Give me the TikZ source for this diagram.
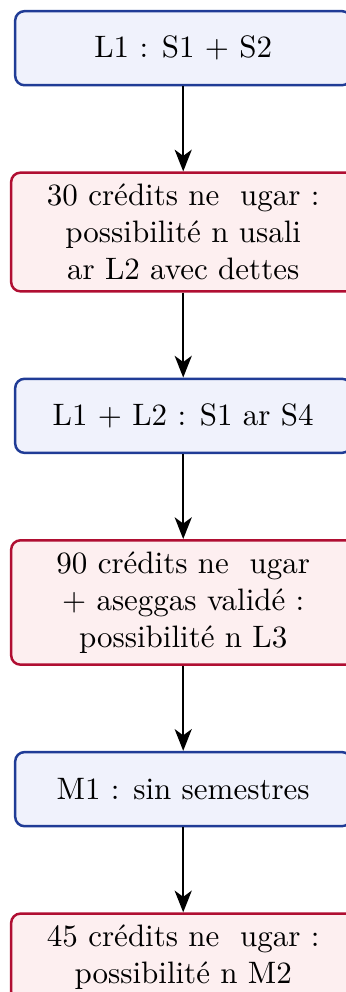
\documentclass[tikz,border=0pt]{standalone}
\usepackage{fontspec}
\usetikzlibrary{positioning,arrows.meta}
\definecolor{bluedraw}{RGB}{32,60,150}
\definecolor{bluefill}{RGB}{240,242,252}
\definecolor{reddraw}{RGB}{176,14,50}
\definecolor{redfill}{RGB}{253,239,240}
\tikzset{
  bluebox/.style={draw=bluedraw, fill=bluefill, thick, rounded corners=3pt,
    minimum width=108.4pt, minimum height=23.9pt, inner sep=3.6pt, align=center},
  redbox/.style={draw=reddraw, fill=redfill, thick, rounded corners=3pt,
    minimum width=111pt, inner xsep=3.6pt, inner ysep=3.6pt, align=center},
  flowarrow/.style={thick, -{Stealth[length=7pt,width=5.5pt,inset=2pt]}},
  node distance=27.4pt
}
\begin{document}
\begin{tikzpicture}
\useasboundingbox (0,0) rectangle (111.6pt,-320pt);
\clip (0,0) rectangle (111.6pt,-320pt);
\node[bluebox] (n1) at (59.1pt,-15.55pt) {L1 : S1 + S2};
\node[redbox, below=of n1] (n2) {30 crédits ne\ \ ugar :\\possibilité n usali\\ar L2 avec dettes};
\node[bluebox, below=of n2] (n3) {L1 + L2 : S1 ar S4};
\node[redbox, below=of n3] (n4) {90 crédits ne\ \ ugar\\+ aseggas validé :\\possibilité n L3};
\node[bluebox, below=of n4] (n5) {M1 : sin semestres};
\node[redbox, below=of n5] (n6) {45 crédits ne\ \ ugar :\\possibilité n M2};
\draw[flowarrow] (n1.south) -- (n2.north);
\draw[flowarrow] (n2.south) -- (n3.north);
\draw[flowarrow] (n3.south) -- (n4.north);
\draw[flowarrow] (n4.south) -- (n5.north);
\draw[flowarrow] (n5.south) -- (n6.north);
\end{tikzpicture}
\end{document}
